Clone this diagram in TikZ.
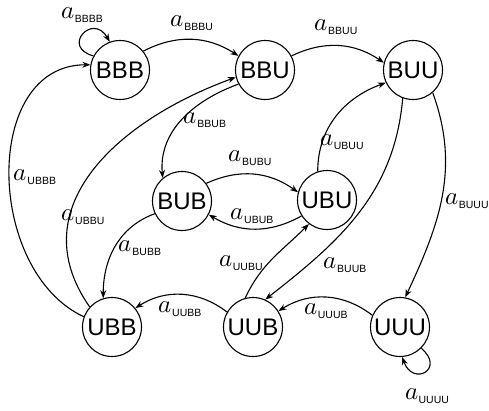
\documentclass[tikz,border=0pt]{standalone}
\usepackage{amsmath}
\usepackage{unicode-math}
\setmathfont{Latin Modern Math}
\setsansfont{Liberation Sans}
\usetikzlibrary{arrows,arrows.meta,positioning}

% label of a transition: italic a with a sans subscript
\newcommand{\lbl}[1]{$a$\kern0.3pt\raisebox{-3.5pt}{\fontsize{10.5}{12}\selectfont\sffamily #1}}

\tikzset{
	state/.style={draw, circle, line width=1.1pt, minimum size=59pt, inner sep=0pt,
		font=\sffamily\fontsize{24}{28}\selectfont},
	edge/.style={line width=1.1pt, -{Stealth[length=8pt,width=6pt,inset=2.5pt]}},
	lab/.style={inner sep=0pt, font=\fontsize{25}{27}\selectfont}
}

\begin{document}
\begin{tikzpicture}[x=1pt,y=-1pt]
					\useasboundingbox (0,0) rectangle (489,410);

					% Draw the eight states
					\node[state] (BBB) at (120,70) {BBB};
					\node[state] (BBU) at (265,70) {BBU};
					\node[state] (BUU) at (413,70) {BUU};
					\node[state] (BUB) at (182,201) {BUB};
					\node[state] (UBU) at (327,200) {UBU};
					\node[state] (UBB) at (112,327) {UBB};
					\node[state] (UUB) at (253,327) {UUB};
					\node[state] (UUU) at (400,327) {UUU};

					% Draw the transitions
					\draw[edge] (BBB.152) to[out=165,in=120,distance=34pt] (BBB.110);
					\draw[edge] (BBB.39) to[bend left=30] (BBU.152);
					\draw[edge] (BBU.28) to[bend left=30] (BUU.166);
					\draw[edge] (BBU.208) to[out=200,in=95] (BUB.130);
					\draw[edge] (UBB.138) to[out=125,in=200,looseness=1.15] (BBU.194);
					\draw[edge] (UBB.160) to[out=155,in=180,looseness=1.1] (BBB.170);
					\draw[edge] (BUB.36) to[bend left=30] (UBU.165);
					\draw[edge] (UBU.212) to[bend left=30] (BUB.333);
					\draw[edge] (BUB.205) to[out=200,in=90] (UBB.107);
					\draw[edge] (UBU.108) to[out=90,in=200] (BUU.205);
					\draw[edge] (BUU.250) to[out=265,in=38] (UUB.66);
					\draw[edge] (BUU.311) to[out=290,in=65] (UUU.80);
					\draw[edge] (UUU.-45) to[out=-40,in=-70,distance=32pt] (UUU.-86);
					\draw[edge] (UUU.157) to[bend right=35] (UUB.32);
					\draw[edge] (UUB.150) to[bend right=35] (UBB.39);
					\draw[edge] (UUB.105) to[out=65,in=225] (UBU.233);

					% Label the transitions
					\node[lab] (lBBBB) at (82,15) {\lbl{BBBB}};
					\node[lab] (lBBBU) at (192,23) {\lbl{BBBU}};
					\node[lab] (lBBUU) at (336,27) {\lbl{BBUU}};
					\node[lab] (lBBUB) at (205,120) {\lbl{BBUB}};
					\node[lab] (lUBBB) at (35,177) {\lbl{UBBB}};
					\node[lab] (lUBBU) at (83,217) {\lbl{UBBU}};
					\node[lab] (lBUBU) at (250,158) {\lbl{BUBU}};
					\node[lab] (lUBUB) at (252,216) {\lbl{UBUB}};
					\node[lab] (lBUBB) at (140,248) {\lbl{BUBB}};
					\node[lab] (lUBUU) at (342,142) {\lbl{UBUU}};
					\node[lab] (lBUUB) at (345,265) {\lbl{BUUB}};
					\node[lab] (lBUUU) at (467,201) {\lbl{BUUU}};
					\node[lab] (lUUBU) at (241,263) {\lbl{UUBU}};
					\node[lab] (lUUUB) at (326,311) {\lbl{UUUB}};
					\node[lab] (lUUBB) at (180,309) {\lbl{UUBB}};
					\node[lab] (lUUUU) at (427,396) {\lbl{UUUU}};
				\end{tikzpicture}
\end{document}
